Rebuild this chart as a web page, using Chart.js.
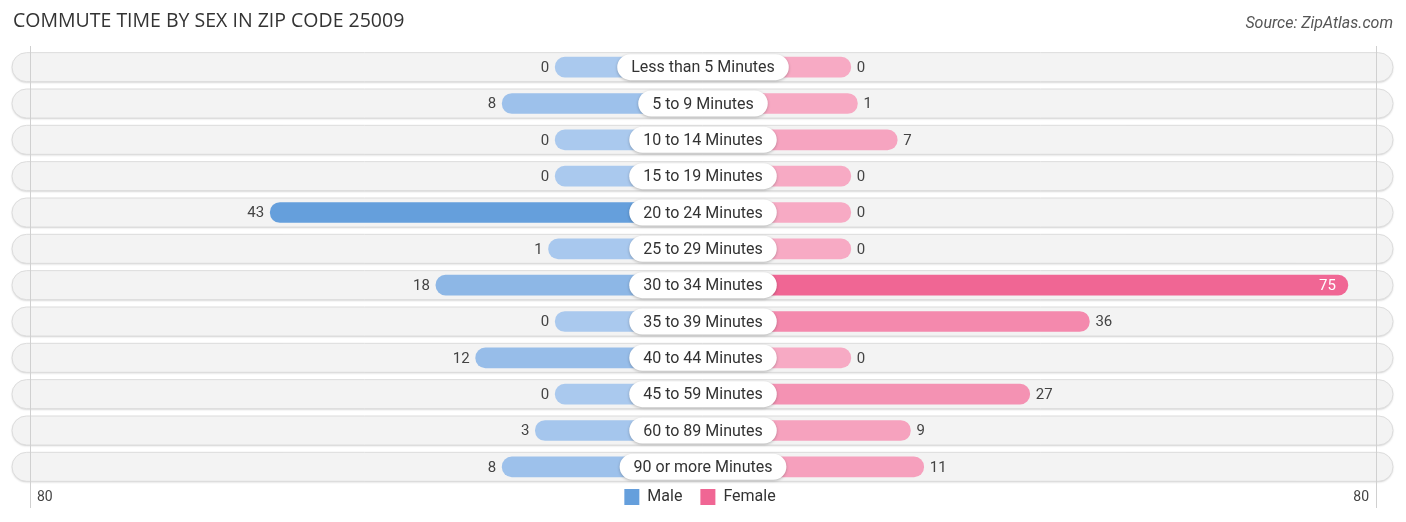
<!DOCTYPE html>
<html>
<head>
<meta charset="utf-8">
<script src="https://cdn.jsdelivr.net/npm/chart.js@4/dist/chart.umd.min.js"></script>
<style>
  html, body { margin: 0; padding: 0; background: #fff; }
  #wrap { width: 1406px; height: 522px; position: relative; }
</style>
</head>
<body>
<div id="wrap"><canvas id="chart"></canvas></div>
<script>
const categories = [
  'Less than 5 Minutes', '5 to 9 Minutes', '10 to 14 Minutes', '15 to 19 Minutes',
  '20 to 24 Minutes', '25 to 29 Minutes', '30 to 34 Minutes', '35 to 39 Minutes',
  '40 to 44 Minutes', '45 to 59 Minutes', '60 to 89 Minutes', '90 or more Minutes'
];
const maleValues = [0, 8, 0, 0, 43, 1, 18, 0, 12, 0, 3, 8];
const femaleValues = [0, 1, 7, 0, 0, 0, 75, 36, 0, 27, 9, 11];
const axisMax = 80;
const axisLabels = ['80', '80'];
const seriesNames = ['Male', 'Female'];

// room under the centre label, in value units
const labelRoom = 22.3;

const maleLight = [170, 201, 238], maleDark = [101, 159, 220];
const femaleLight = [247, 170, 196], femaleDark = [240, 102, 148];

function mix(a, b, t) {
  return 'rgb(' + a.map((c, i) => Math.round(c + (b[i] - c) * t)).join(',') + ')';
}
const maleMax = Math.max(...maleValues);
const femaleMax = Math.max(...femaleValues);
const maleColors = maleValues.map(v => mix(maleLight, maleDark, v / maleMax));
const femaleColors = femaleValues.map(v => mix(femaleLight, femaleDark, v / femaleMax));

const FONT = 'Roboto, "Noto Sans", sans-serif';

function roundRect(ctx, x, y, w, h, r) {
  ctx.beginPath();
  ctx.moveTo(x + r, y);
  ctx.lineTo(x + w - r, y);
  ctx.arc(x + w - r, y + r, r, -Math.PI / 2, Math.PI / 2);
  ctx.lineTo(x + r, y + h);
  ctx.arc(x + r, y + r, r, Math.PI / 2, Math.PI * 1.5);
  ctx.closePath();
}

const decor = {
  id: 'decor',
  beforeDatasetsDraw(chart) {
    const ctx = chart.ctx;
    const xs = chart.scales.x, ys = chart.scales.y;
    ctx.save();
    // title + source
    ctx.fillStyle = '#333';
    ctx.font = '19.5px "Open Sans", sans-serif';
    ctx.textBaseline = 'middle';
    ctx.textAlign = 'left';
    ctx.fillText('COMMUTE TIME BY SEX IN ZIP CODE 25009', 13, 21);
    ctx.fillStyle = '#555';
    ctx.font = 'italic 16px ' + FONT;
    ctx.textAlign = 'right';
    ctx.fillText('Source: ZipAtlas.com', 1393, 24);

    // row backgrounds
    categories.forEach((c, i) => {
      const y = ys.getPixelForValue(i);
      ctx.save();
      ctx.shadowColor = 'rgba(0,0,0,0.18)';
      ctx.shadowBlur = 2;
      ctx.shadowOffsetY = 1;
      roundRect(ctx, 12, y - 14.5, 1381, 29, 14.5);
      ctx.fillStyle = '#f3f3f3';
      ctx.fill();
      ctx.restore();
      roundRect(ctx, 12, y - 14.5, 1381, 29, 14.5);
      ctx.strokeStyle = '#dcdcdc';
      ctx.lineWidth = 1;
      ctx.stroke();
    });

    // edge lines + axis labels
    const lx = xs.getPixelForValue(-(axisMax + labelRoom)) + 5;
    const rx = xs.getPixelForValue(axisMax + labelRoom) - 5;
    ctx.strokeStyle = '#d0d0d0';
    ctx.beginPath();
    ctx.moveTo(Math.round(lx) + 0.5, 46); ctx.lineTo(Math.round(lx) + 0.5, 508);
    ctx.moveTo(Math.round(rx) + 0.5, 46); ctx.lineTo(Math.round(rx) + 0.5, 508);
    ctx.stroke();
    ctx.fillStyle = '#444';
    ctx.font = '14px ' + FONT;
    ctx.textAlign = 'left';
    ctx.fillText(axisLabels[0], lx + 7, 497);
    ctx.textAlign = 'right';
    ctx.fillText(axisLabels[1], rx - 7, 497);

    // legend
    const legendColors = ['rgb(101,159,220)', 'rgb(240,102,148)'];
    ctx.font = '16px ' + FONT;
    const widths = seriesNames.map(n => 15 + 8 + ctx.measureText(n).width);
    const gap = 18;
    let x = 700 - (widths[0] + widths[1] + gap) / 2;
    ctx.textAlign = 'left';
    seriesNames.forEach((n, i) => {
      ctx.fillStyle = legendColors[i];
      ctx.fillRect(x, 489, 15, 16);
      ctx.fillStyle = '#333';
      ctx.fillText(n, x + 23, 497);
      x += widths[i] + gap;
    });
    ctx.restore();
  },
  afterDatasetsDraw(chart) {
    const ctx = chart.ctx;
    const xs = chart.scales.x, ys = chart.scales.y;
    const cx = xs.getPixelForValue(0);
    ctx.save();
    ctx.textBaseline = 'middle';
    categories.forEach((c, i) => {
      const y = ys.getPixelForValue(i);
      // value labels
      ctx.font = '15px ' + FONT;
      const mEnd = xs.getPixelForValue(-(maleValues[i] + labelRoom));
      ctx.fillStyle = '#444';
      ctx.textAlign = 'right';
      ctx.fillText(String(maleValues[i]), mEnd - 6, y + 1);
      const fEnd = xs.getPixelForValue(femaleValues[i] + labelRoom);
      if (femaleValues[i] > 60) {
        ctx.fillStyle = '#fff';
        ctx.textAlign = 'right';
        ctx.fillText(String(femaleValues[i]), fEnd - 12, y + 1);
      } else {
        ctx.fillStyle = '#444';
        ctx.textAlign = 'left';
        ctx.fillText(String(femaleValues[i]), fEnd + 6, y + 1);
      }
      // centre label pill
      ctx.font = '16px ' + FONT;
      const w = ctx.measureText(c).width + 28;
      ctx.save();
      ctx.shadowColor = 'rgba(0,0,0,0.25)';
      ctx.shadowBlur = 3;
      ctx.shadowOffsetY = 1;
      roundRect(ctx, cx - w / 2, y - 13, w, 26, 13);
      ctx.fillStyle = '#fff';
      ctx.fill();
      ctx.restore();
      ctx.fillStyle = '#333';
      ctx.textAlign = 'center';
      ctx.fillText(c, cx, y + 1);
    });
    ctx.restore();
  }
};

new Chart(document.getElementById('chart'), {
  type: 'bar',
  data: {
    labels: categories,
    datasets: [
      {
        label: seriesNames[0],
        data: maleValues.map(v => [-(v + labelRoom), 0]),
        backgroundColor: maleColors,
        borderRadius: 10,
        borderSkipped: false,
        barThickness: 20
      },
      {
        label: seriesNames[1],
        data: femaleValues.map(v => [0, v + labelRoom]),
        backgroundColor: femaleColors,
        borderRadius: 10,
        borderSkipped: false,
        barThickness: 20
      }
    ]
  },
  options: {
    indexAxis: 'y',
    responsive: true,
    maintainAspectRatio: false,
    animation: false,
    grouped: false,
    layout: { padding: { left: 25, right: 25, top: 49, bottom: 37 } },
    scales: {
      x: { display: false, min: -(axisMax + labelRoom), max: axisMax + labelRoom },
      y: { display: false }
    },
    plugins: {
      tooltip: { enabled: false },
      legend: { display: false }
    }
  },
  plugins: [decor]
});
</script>
</body>
</html>
